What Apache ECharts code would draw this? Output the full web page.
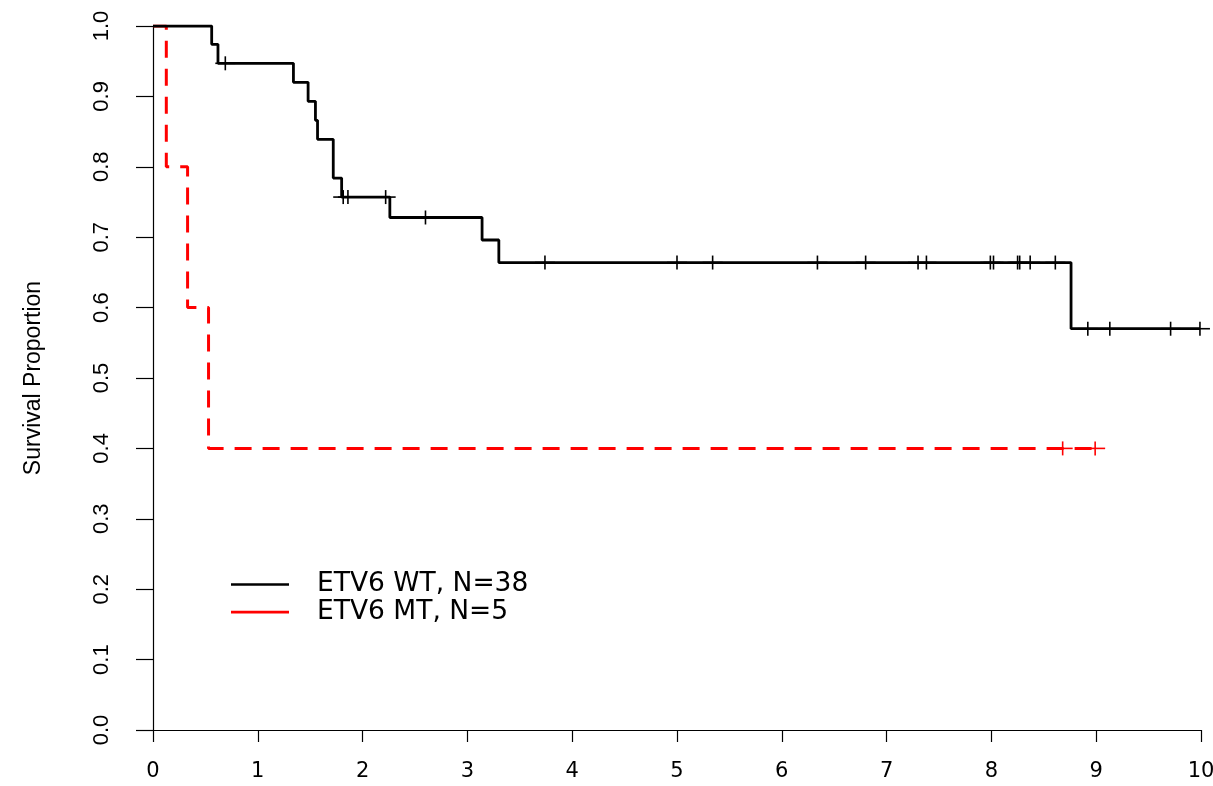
<!DOCTYPE html>
<html>
<head>
<meta charset="utf-8">
<script src="https://cdn.jsdelivr.net/npm/echarts@6/dist/echarts.min.js"></script>
<style>
html,body{margin:0;padding:0;background:#fff;overflow:hidden;}
#chart{width:1213px;height:786px;}
</style>
</head>
<body>
<div id="chart"></div>
<script>
// ---- data ----
const seriesNames = ['ETV6 WT, N=38', 'ETV6 MT, N=5'];
const xTicks = [0, 1, 2, 3, 4, 5, 6, 7, 8, 9, 10];
const yTicks = [0.0, 0.1, 0.2, 0.3, 0.4, 0.5, 0.6, 0.7, 0.8, 0.9, 1.0];

// ETV6 WT step curve (time, survival after step)
const wtTime = [0, 0.56, 0.62, 1.34, 1.48, 1.55, 1.57, 1.72, 1.80, 2.26, 3.14, 3.30, 8.76, 9.99];
const wtSurv = [1.0, 0.974, 0.947, 0.920, 0.893, 0.866, 0.839, 0.784, 0.757, 0.728, 0.696, 0.664, 0.570, 0.570];
// ETV6 WT censor marks
const wtCensorTime = [0.69, 1.815, 1.86, 2.22, 2.60, 3.74, 5.00, 5.34, 6.34, 6.80, 7.30, 7.38, 7.99, 8.02, 8.25, 8.27, 8.37, 8.61, 8.92, 9.13, 9.71, 9.99];
const wtCensorSurv = [0.947, 0.757, 0.757, 0.757, 0.728, 0.664, 0.664, 0.664, 0.664, 0.664, 0.664, 0.664, 0.664, 0.664, 0.664, 0.664, 0.664, 0.664, 0.570, 0.570, 0.570, 0.570];

// ETV6 MT step curve
const mtTime = [0, 0.127, 0.33, 0.53, 8.99];
const mtSurv = [1.0, 0.8, 0.6, 0.4, 0.4];
// ETV6 MT censor marks
const mtCensorTime = [8.68, 8.99];
const mtCensorSurv = [0.4, 0.4];

const seriesColors = ['#000000', '#ff0000'];

// ---- build ----
function zip(a, b) { return a.map((v, i) => [v, b[i]]); }

function censorRender(color) {
  return function (params, api) {
    const p = api.coord([api.value(0), api.value(1)]);
    const st = { stroke: color, lineWidth: 1.6 };
    return {
      type: 'group',
      children: [
        { type: 'line', shape: { x1: p[0] - 10, y1: p[1], x2: p[0] + 10, y2: p[1] }, style: st },
        { type: 'line', shape: { x1: p[0], y1: p[1] - 7, x2: p[0], y2: p[1] + 7 }, style: st }
      ]
    };
  };
}

const chart = echarts.init(document.getElementById('chart'), null, { renderer: 'canvas' });

const option = {
  animation: false,
  backgroundColor: '#ffffff',
  grid: { left: 153, right: 12, top: 26, bottom: 56, containLabel: false, outerBoundsMode: 'none' },
  legend: {
    data: seriesNames,
    orient: 'vertical',
    left: 226,
    top: 566,
    icon: 'rect',
    itemWidth: 58,
    itemHeight: 2.6,
    itemGap: 0.6,
    selectedMode: false,
    itemStyle: { borderWidth: 0 },
    textStyle: {
      fontFamily: 'DejaVu Sans',
      fontSize: 26.5,
      color: '#000',
      lineHeight: 26,
      padding: [0, 0, 0, 23]
    }
  },
  xAxis: {
    type: 'value',
    min: xTicks[0],
    max: xTicks[xTicks.length - 1],
    interval: 1,
    splitLine: { show: false },
    axisLine: { show: true, onZero: false, lineStyle: { color: '#000', width: 1.2 } },
    axisTick: { show: true, length: 12, lineStyle: { color: '#000', width: 1.2 } },
    axisLabel: {
      show: true, margin: 31, color: '#000',
      fontFamily: 'DejaVu Sans', fontSize: 21,
      formatter: v => String(v)
    }
  },
  yAxis: {
    type: 'value',
    min: yTicks[0],
    max: yTicks[yTicks.length - 1],
    interval: 0.1,
    splitLine: { show: false },
    axisLine: { show: true, onZero: false, lineStyle: { color: '#000', width: 1.2 } },
    axisTick: { show: true, length: 17, lineStyle: { color: '#000', width: 1.2 } },
    axisLabel: {
      show: true, rotate: 90, margin: 40, color: '#000',
      fontFamily: "'Liberation Sans', Arial",
      fontSize: 22,
      formatter: v => Number(v).toFixed(1)
    },
    name: 'Survival Proportion',
    nameLocation: 'middle',
    nameRotate: 90,
    nameGap: 108,
    nameTextStyle: {
      color: '#000',
      fontFamily: "'Liberation Sans', Arial",
      fontSize: 23
    }
  },
  series: [
    // legend entries (solid bars, as in the reference legend)
    {
      name: seriesNames[0], type: 'custom', data: [],
      renderItem: function () { return null; },
      itemStyle: { color: seriesColors[0] }
    },
    {
      name: seriesNames[1], type: 'custom', data: [],
      renderItem: function () { return null; },
      itemStyle: { color: seriesColors[1] }
    },
    {
      name: 'mtCurve',
      type: 'line',
      step: 'end',
      symbol: 'none',
      color: seriesColors[1],
      lineStyle: { color: seriesColors[1], width: 3, type: [17, 11] },
      data: zip(mtTime, mtSurv),
      z: 2
    },
    {
      name: 'wtCurve',
      type: 'line',
      step: 'end',
      symbol: 'none',
      color: seriesColors[0],
      lineStyle: { color: seriesColors[0], width: 2.8 },
      data: zip(wtTime, wtSurv),
      z: 3
    },
    {
      name: 'wtCensor',
      type: 'custom',
      renderItem: censorRender(seriesColors[0]),
      data: zip(wtCensorTime, wtCensorSurv),
      clip: false,
      z: 4
    },
    {
      name: 'mtCensor',
      type: 'custom',
      renderItem: censorRender(seriesColors[1]),
      data: zip(mtCensorTime, mtCensorSurv),
      clip: false,
      z: 4
    }
  ]
};
chart.setOption(option);
</script>
</body>
</html>
